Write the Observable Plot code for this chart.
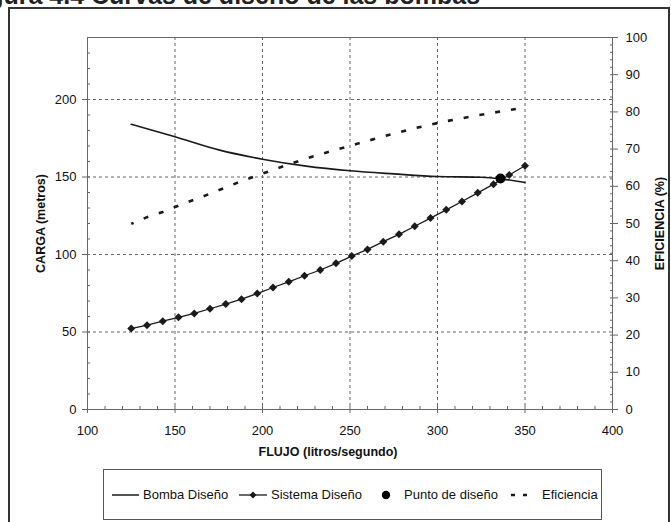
<!DOCTYPE html>
<html>
<head>
<meta charset="utf-8">
<script src="https://cdn.jsdelivr.net/npm/d3@7"></script>
<script src="https://cdn.jsdelivr.net/npm/@observablehq/plot@0.6"></script>
<style>
  html, body { margin: 0; padding: 0; background: #fff; }
  body { width: 671px; height: 522px; overflow: hidden; position: relative; font-family: "Liberation Sans", Arial, sans-serif; color: #111; }
  #title { position: absolute; top: -20px; left: -34px; font-weight: bold; font-size: 25px; line-height: 30px; white-space: nowrap; color: #222; }
  #box { position: absolute; left: 8px; top: 7px; width: 662px; height: 540px; border: 2px solid #333; box-sizing: border-box; background: #fff; }
  #chart { position: absolute; left: 0; top: 0; }
  #legend { position: absolute; left: 103px; top: 469px; width: 499px; height: 51px; border: 1px solid #555; box-sizing: border-box; font-size: 13px; }
  #legend .item { position: absolute; top: 0; height: 49px; display: flex; align-items: center; }
  #legend svg { display: block; margin-right: 3px; }
</style>
</head>
<body>
<div id="title">Figura 4.4 Curvas de diseño de las bombas</div>
<div id="box"></div>
<div id="chart"></div>
<div id="legend"></div>
<script>
// Sistema Diseño (flow l/s, head m) and efficiency (%) at the same flows
const flujoSistema = [125,134,143,152,161,170,179,188,197,206,215,224,233,242,251,260,269,278,287,296,305,314,323,332,341,350];
const cargaSistema = [52.2,54.4,57.0,59.5,62.0,65.0,68.0,71.2,74.8,78.7,82.4,86.3,90.0,94.3,99.0,103.3,108.3,113.0,118.2,123.5,128.8,134.2,139.8,145.4,151.3,157.3];
const eficiencia   = [49.9,51.7,53.1,54.8,56.4,58.0,59.7,61.4,62.9,64.4,65.9,67.3,68.6,69.8,71.0,72.2,73.4,74.5,75.6,76.6,77.5,78.3,79.1,79.8,80.5,81.2];
// Bomba Diseño
const flujoBomba = [125,150,175,200,225,250,275,300,325,336,350];
const cargaBomba = [184.0,176.0,167.5,161.5,157.0,154.0,152.0,150.3,149.8,148.8,146.5];
// Punto de diseño
const puntoFlujo = [336];
const puntoCarga = [149];
// Axes
const xTicks = [100,150,200,250,300,350,400];
const yLeftTicks = [0,50,100,150,200];
const yRightTicks = [0,10,20,30,40,50,60,70,80,90,100];
const leftMax = 240, rightMax = 100;
const k = leftMax / rightMax;

const sistema = flujoSistema.map((f, i) => ({flujo: f, carga: cargaSistema[i], ef: eficiencia[i]}));
const bomba = flujoBomba.map((f, i) => ({flujo: f, carga: cargaBomba[i]}));
const punto = puntoFlujo.map((f, i) => ({flujo: f, carga: puntoCarga[i]}));

const axisColor = "#666";
const ink = "#1a1a1a";

const chart = Plot.plot({
  width: 671,
  height: 465,
  marginLeft: 87,
  marginRight: 59,
  marginTop: 37,
  marginBottom: 56,
  x: {domain: [100, 400]},
  y: {domain: [0, leftMax]},
  style: {fontFamily: "'Liberation Sans', Arial, sans-serif", fontSize: "13px", color: "#111", background: "transparent", overflow: "visible"},
  marks: [
    Plot.gridX([150,200,250,300,350], {stroke: "#555", strokeOpacity: 0.9, strokeDasharray: "3,3"}),
    Plot.gridY([50,100,150,200], {stroke: "#555", strokeOpacity: 0.9, strokeDasharray: "3,3"}),
    Plot.frame({stroke: axisColor}),
    // minor ticks
    Plot.axisX(d3.range(110, 400, 10), {fill: "none", stroke: axisColor, tickSize: -3, label: null}),
    Plot.axisY(d3.range(10, leftMax, 10), {fill: "none", stroke: axisColor, tickSize: -3, label: null}),
    Plot.axisY(d3.range(2, rightMax, 2).map(v => v * k), {anchor: "right", fill: "none", stroke: axisColor, tickSize: -3, label: null}),
    // major ticks and labels
    Plot.axisX(xTicks, {stroke: axisColor, tickSize: 4, tickPadding: 12, label: null, tickFormat: d3.format("d")}),
    Plot.axisY(yLeftTicks, {stroke: axisColor, tickSize: 5, tickPadding: 6, label: null, tickFormat: d3.format("d")}),
    Plot.axisY(yRightTicks.map(v => v * k), {anchor: "right", stroke: axisColor, tickSize: 5, tickPadding: 8, label: null, tickFormat: d => String(Math.round(d / k))}),
    // axis titles
    Plot.text(["CARGA (metros)"], {frameAnchor: "left", dx: -47, rotate: -90, fontWeight: "bold", fontSize: 12.5, textAnchor: "middle"}),
    Plot.text(["EFICIENCIA (%)"], {frameAnchor: "right", dx: 47, rotate: -90, fontWeight: "bold", fontSize: 12.5, textAnchor: "middle"}),
    Plot.text(["FLUJO (litros/segundo)"], {frameAnchor: "bottom", dx: -22, dy: 46, fontWeight: "bold", fontSize: 12.5, textAnchor: "middle"}),
    // series
    Plot.line(sistema, {x: "flujo", y: d => d.ef * k, stroke: ink, strokeWidth: 2.6, strokeDasharray: "5,11", strokeDashoffset: 2.5, strokeLinecap: "butt"}),
    Plot.line(bomba, {x: "flujo", y: "carga", stroke: ink, strokeWidth: 1.6, curve: "monotone-x"}),
    Plot.line(sistema, {x: "flujo", y: "carga", stroke: ink, strokeWidth: 1.3}),
    Plot.dot(sistema, {x: "flujo", y: "carga", symbol: "diamond2", r: 3.6, fill: ink, stroke: "none"}),
    Plot.dot(punto, {x: "flujo", y: "carga", r: 5, fill: "#000", stroke: "none"})
  ]
});
document.getElementById("chart").appendChild(chart);

// Legend
const legendItems = [
  {label: "Bomba Diseño", left: 8, kind: "line"},
  {label: "Sistema Diseño", left: 135, kind: "lineDiamond"},
  {label: "Punto de diseño", left: 275, kind: "dot"},
  {label: "Eficiencia", left: 405, kind: "dash"}
];
const legend = document.getElementById("legend");
for (const it of legendItems) {
  const div = document.createElement("div");
  div.className = "item";
  div.style.left = it.left + "px";
  let sw = "";
  if (it.kind === "line") sw = `<svg width="28" height="12"><line x1="0" y1="6" x2="27" y2="6" stroke="${ink}" stroke-width="1.5"/></svg>`;
  if (it.kind === "lineDiamond") sw = `<svg width="29" height="12"><line x1="0" y1="6" x2="28" y2="6" stroke="${ink}" stroke-width="1.3"/><path d="M14,2.5L17.5,6L14,9.5L10.5,6Z" fill="${ink}"/></svg>`;
  if (it.kind === "dot") sw = `<svg width="22" height="12"><circle cx="7" cy="6" r="4.2" fill="#000"/></svg>`;
  if (it.kind === "dash") sw = `<svg width="30" height="12"><line x1="2" y1="6" x2="22" y2="6" stroke="${ink}" stroke-width="2.4" stroke-dasharray="4,8"/></svg>`;
  div.innerHTML = sw + `<span>${it.label}</span>`;
  legend.appendChild(div);
}
</script>
</body>
</html>
